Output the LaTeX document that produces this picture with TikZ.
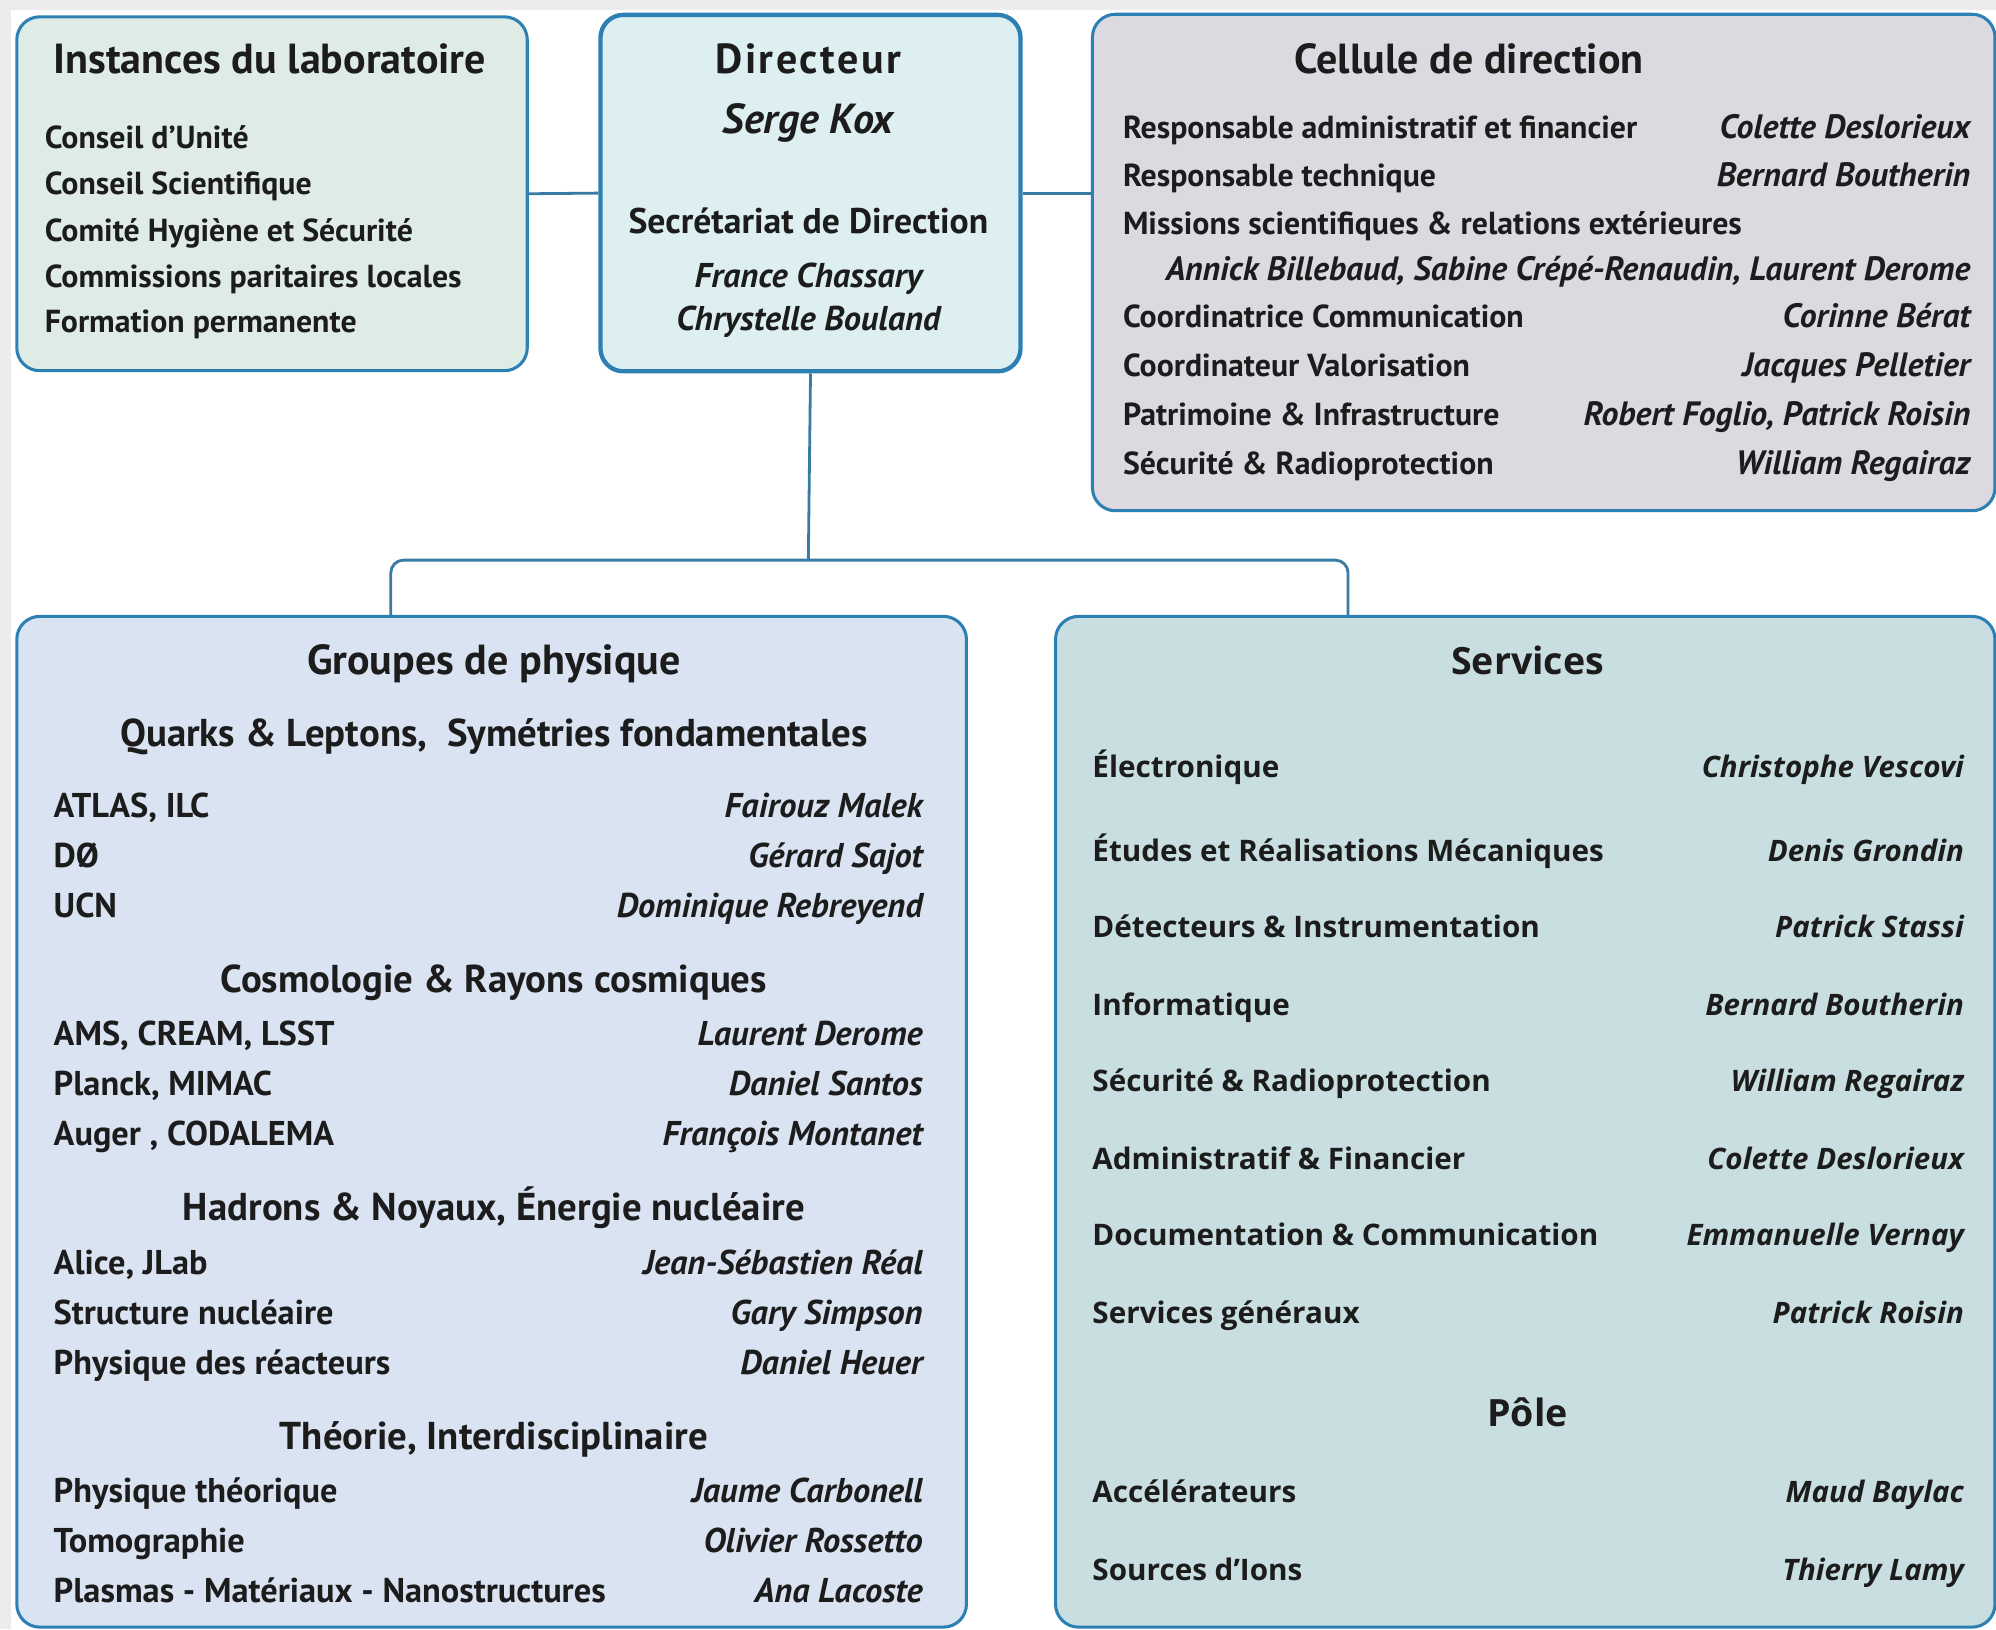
\documentclass[tikz,border=0pt]{standalone}
\usepackage{fontspec}
\setmainfont{PT Sans}
\newfontfamily\svcfont{Open Sans}
\newfontfamily\lsfont[LetterSpace=6]{PT Sans}
\definecolor{bord}{HTML}{2D80B3}
\definecolor{conncol}{HTML}{3A7BA3}
\definecolor{bggray}{HTML}{ECECEF}
\definecolor{instfill}{HTML}{DFECE5}
\definecolor{dirfill}{HTML}{DDEFF1}
\definecolor{cellfill}{HTML}{DDD9E0}
\definecolor{grpfill}{HTML}{D9E3F1}
\definecolor{srvfill}{HTML}{C8DEE1}
\definecolor{txt}{HTML}{1C1C1C}
\begin{document}
\begin{tikzpicture}[x=1pt,y=-1pt,
  box/.style={draw=bord, line width=2.4pt, rounded corners=18pt, inner sep=0pt, anchor=north west},
  conn/.style={draw=conncol, line width=2.2pt},
  tx/.style={inner sep=0pt, text=txt},
  it/.style={tx, font=\fontsize{25}{29}\selectfont\bfseries},
  nm/.style={tx, font=\fontsize{26.5}{30}\selectfont\bfseries\itshape},
  git/.style={tx, font=\fontsize{27}{31}\selectfont\bfseries},
  gnm/.style={tx, font=\fontsize{27}{31}\selectfont\bfseries\itshape},
  ttl/.style={tx, font=\fontsize{33}{37}\selectfont\bfseries},
  sub/.style={tx, font=\fontsize{30.5}{34}\selectfont\bfseries},
  sit/.style={tx, font=\fontsize{23.3}{27}\svcfont\bfseries},
  snm/.style={tx, font=\fontsize{23.2}{27}\svcfont\bfseries\itshape},
  sttl/.style={tx, font=\fontsize{29.5}{33}\svcfont\bfseries}]
\useasboundingbox (0,0) rectangle (1568,1280);
\fill[bggray] (0,0) rectangle (1568,1280);
\fill[white] (9,8) rectangle (1568,1280);
% boxes
\node[box, fill=instfill, minimum width=401pt, minimum height=278pt] (inst) at (12,12) {};
\node[box, fill=dirfill, line width=3.4pt, minimum width=330pt, minimum height=280pt] (dir) at (470,10) {};
\node[box, fill=cellfill, minimum width=709pt, minimum height=390pt] (cell) at (857,10) {};
\node[box, fill=grpfill, minimum width=746pt, minimum height=794pt] (grp) at (12,483) {};
\node[box, fill=srvfill, minimum width=738pt, minimum height=794pt] (srv) at (828,483) {};
% connectors
\coordinate (jn) at (635,440);
\coordinate (gl) at (307,483);
\coordinate (sl) at (1059,483);
\draw[conn] (inst.east) -- (dir.west);
\draw[conn] (dir.east) -- (dir.east -| cell.west);
\draw[conn] (dir.south) -- (jn);
\draw[conn, rounded corners=10pt] (gl) |- (jn) -| (sl);
\begin{scope}[shift={(0,7)}]
% Instances
\node[ttl, anchor=mid] (t1) at (212,48) {Instances du laboratoire};
\foreach \y/\t [count=\n] in {107/Conseil d’Unité, 143/Conseil Scientifique, 180/Comité Hygiène et Sécurité, 216/Commissions paritaires locales, 252/Formation permanente}
  \node[it, anchor=mid west] (i\n) at (35,\y) {\t};
% Directeur
\node[ttl, anchor=mid, font=\fontsize{33}{37}\lsfont\bfseries] (t2) at (635,48) {Directeur};
\node[ttl, anchor=mid, font=\fontsize{33}{37}\selectfont\bfseries\itshape] (d1) at (635,95) {Serge Kox};
\node[tx, anchor=mid, font=\fontsize{28}{32}\selectfont\bfseries] (d2) at (635,174) {Secrétariat de Direction};
\node[tx, anchor=mid, font=\fontsize{27}{31}\selectfont\bfseries\itshape] (d3) at (635,216) {France Chassary};
\node[tx, anchor=mid, font=\fontsize{27}{31}\selectfont\bfseries\itshape] (d4) at (635,250) {Chrystelle Bouland};
% Cellule
\node[ttl, anchor=mid] (t3) at (1154,48) {Cellule de direction};
\foreach \y/\a/\b [count=\n] in {99/Responsable administratif et financier/Colette Deslorieux,
  137/Responsable technique/Bernard Boutherin,
  175/Missions scientifiques \& relations extérieures/{},
  248/Coordinatrice Communication/Corinne Bérat,
  286/Coordinateur Valorisation/Jacques Pelletier,
  325/Patrimoine \& Infrastructure/{Robert Foglio, Patrick Roisin},
  363/Sécurité \& Radioprotection/William Regairaz} {
  \node[it, anchor=mid west] (ca\n) at (882,\y) {\a};
  \node[nm, anchor=mid east] (cb\n) at (1548,\y) {\b};
}
\node[nm, anchor=mid east] (cm) at (1548,211) {Annick Billebaud, Sabine Crépé-Renaudin, Laurent Derome};
% Groupes
\node[ttl, anchor=mid] (t4) at (388,520) {Groupes de physique};
\node[sub, anchor=mid] (g1) at (388,577) {Quarks \& Leptons,\ \ Symétries fondamentales};
\node[sub, anchor=mid] (g2) at (388,770) {Cosmologie \& Rayons cosmiques};
\node[sub, anchor=mid] (g3) at (388,949) {Hadrons \& Noyaux, Énergie nucléaire};
\node[sub, anchor=mid] (g4) at (388,1129) {Théorie, Interdisciplinaire};
\foreach \y/\a/\b [count=\n] in {633/{ATLAS, ILC}/Fairouz Malek,
  672/DØ/Gérard Sajot,
  711/UCN/Dominique Rebreyend,
  812/{AMS, CREAM, LSST}/Laurent Derome,
  851/{Planck, MIMAC}/Daniel Santos,
  890/{Auger , CODALEMA}/François Montanet,
  992/{Alice, JLab}/Jean-Sébastien Réal,
  1031/Structure nucléaire/Gary Simpson,
  1070/Physique des réacteurs/Daniel Heuer,
  1171/Physique théorique/Jaume Carbonell,
  1210/Tomographie/Olivier Rossetto,
  1249/Plasmas - Matériaux - Nanostructures/Ana Lacoste} {
  \node[git, anchor=mid west] (ga\n) at (42,\y) {\a};
  \node[gnm, anchor=mid east] (gb\n) at (725,\y) {\b};
}
% Services
\node[sttl, anchor=mid] (t5) at (1200,520) {Services};
\node[sttl, anchor=mid] (t6) at (1200,1111) {Pôle};
\foreach \y/\a/\b [count=\n] in {601/Électronique/Christophe Vescovi,
  667/Études et Réalisations Mécaniques/Denis Grondin,
  727/Détecteurs \& Instrumentation/Patrick Stassi,
  788/Informatique/Bernard Boutherin,
  848/Sécurité \& Radioprotection/William Regairaz,
  909/Administratif \& Financier/Colette Deslorieux,
  969/Documentation \& Communication/Emmanuelle Vernay,
  1030/Services généraux/Patrick Roisin,
  1171/Accélérateurs/Maud Baylac,
  1232/Sources d’Ions/Thierry Lamy} {
  \node[sit, anchor=mid west] (sa\n) at (858,\y) {\a};
  \node[snm, anchor=mid east] (sb\n) at (1543,\y) {\b};
}
\end{scope}
\end{tikzpicture}
\end{document}
